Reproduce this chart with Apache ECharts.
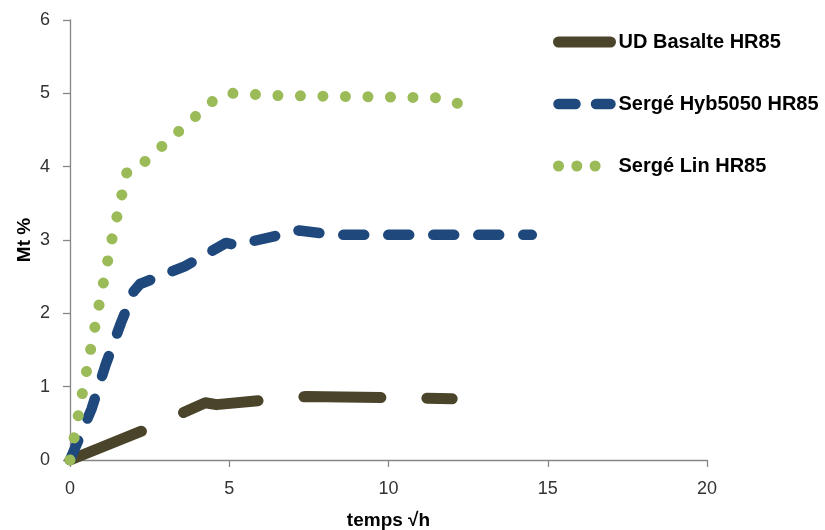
<!DOCTYPE html>
<html>
<head>
<meta charset="utf-8">
<script src="https://cdn.jsdelivr.net/npm/echarts@6/dist/echarts.min.js"></script>
<style>
html,body{margin:0;padding:0;background:#fff;}
#chart{width:825px;height:530px;}
</style>
</head>
<body>
<div id="chart"></div>
<script>
// Series names
const seriesNames = ['UD Basalte HR85', 'Sergé Hyb5050 HR85', 'Sergé Lin HR85'];
// UD Basalte HR85
const basalteX = [0, 2.4, 4.25, 4.6, 6.2, 7.4, 10.1, 12.0];
const basalteY = [0, 0.42, 0.78, 0.755, 0.82, 0.865, 0.85, 0.835];
// Sergé Hyb5050 HR85
const hybX = [0, 0.68, 1.12, 1.6, 2.0, 2.2, 3.6, 4.9, 5.2, 7.2, 8.3, 14.5];
const hybY = [0, 0.70, 1.30, 1.87, 2.30, 2.40, 2.64, 2.96, 2.93, 3.13, 3.07, 3.07];
// Sergé Lin HR85
const linX = [0, 0.5, 0.92, 1.33, 1.8, 2.35, 4.55, 5.1, 6.5, 11.5, 12.2];
const linY = [0, 1.17, 2.13, 3.04, 3.95, 4.07, 4.92, 5.0, 4.97, 4.94, 4.86];
// Axis ticks
const xTicks = [0, 5, 10, 15, 20];
const yTicks = [0, 1, 2, 3, 4, 5, 6];

const zip = (xs, ys) => xs.map((x, i) => [x, ys[i]]);

const chart = echarts.init(document.getElementById('chart'), null, {renderer: 'canvas'});
const font = 'Liberation Sans, Arial, sans-serif';
const axisLineStyle = {color: '#868686', width: 1.3};
const styles = [
  {color: '#4A452A', width: 11, type: [77, 46], legendType: 'solid'},
  {color: '#1F497D', width: 10.5, type: [21, 24], legendType: [17, 20.5]},
  {color: '#9BBB59', width: 11, type: [0.01, 22.5], legendType: [0.01, 18.3]}
];

chart.setOption({
  animation: false,
  backgroundColor: '#ffffff',
  grid: {left: 70, right: 118, top: 20, bottom: 70, containLabel: false, outerBoundsMode: 'none'},
  legend: {
    orient: 'vertical',
    left: 553,
    top: 32,
    padding: 0,
    itemWidth: 52,
    itemHeight: 14,
    itemGap: 42,
    data: seriesNames.map((n, i) => ({
      name: n,
      lineStyle: {type: styles[i].legendType, width: styles[i].width, cap: 'round', color: styles[i].color}
    })),
    textStyle: {fontFamily: font, fontWeight: 'bold', fontSize: 20, color: '#000', padding: [0, 0, 0, 3]},
    lineStyle: {width: 'inherit'},
    itemStyle: {opacity: 0},
    selectedMode: false
  },
  xAxis: {
    type: 'value',
    min: xTicks[0],
    max: xTicks[xTicks.length - 1],
    interval: 5,
    name: 'temps √h',
    nameLocation: 'middle',
    nameGap: 51,
    nameMoveOverlap: false,
    nameTextStyle: {fontFamily: font, fontWeight: 'bold', fontSize: 19, color: '#000'},
    axisLine: {show: true, lineStyle: axisLineStyle},
    axisTick: {show: true, inside: false, length: 7, lineStyle: axisLineStyle},
    axisLabel: {fontFamily: font, fontSize: 18, color: '#333333', margin: 20},
    splitLine: {show: false}
  },
  yAxis: {
    type: 'value',
    min: yTicks[0],
    max: yTicks[yTicks.length - 1],
    interval: 1,
    name: 'Mt %',
    nameLocation: 'middle',
    nameGap: 36,
    nameMoveOverlap: false,
    nameTextStyle: {fontFamily: font, fontWeight: 'bold', fontSize: 19, color: '#000'},
    axisLine: {show: true, lineStyle: axisLineStyle},
    axisTick: {show: true, inside: false, length: 7, lineStyle: axisLineStyle},
    axisLabel: {fontFamily: font, fontSize: 18, color: '#333333', margin: 20},
    splitLine: {show: false}
  },
  series: [
    {
      name: seriesNames[0],
      type: 'line',
      data: zip(basalteX, basalteY),
      symbol: 'none',
      color: styles[0].color,
      lineStyle: {color: styles[0].color, width: styles[0].width, type: styles[0].type, cap: 'round', join: 'round'}
    },
    {
      name: seriesNames[1],
      type: 'line',
      data: zip(hybX, hybY),
      symbol: 'none',
      color: styles[1].color,
      lineStyle: {color: styles[1].color, width: styles[1].width, type: styles[1].type, cap: 'round', join: 'round'}
    },
    {
      name: seriesNames[2],
      type: 'line',
      data: zip(linX, linY),
      symbol: 'none',
      color: styles[2].color,
      lineStyle: {color: styles[2].color, width: styles[2].width, type: styles[2].type, cap: 'round', join: 'round'}
    }
  ]
});
</script>
</body>
</html>
